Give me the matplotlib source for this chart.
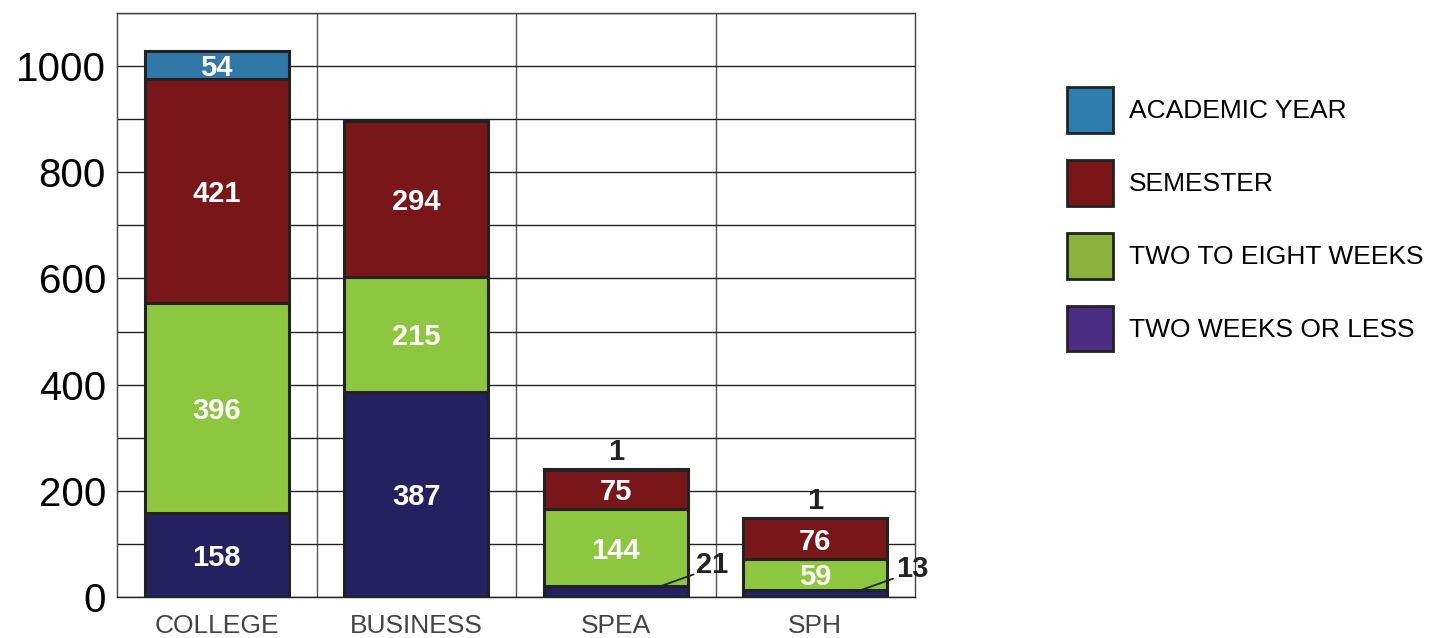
import numpy as np
import matplotlib
matplotlib.use('Agg')
import matplotlib.pyplot as plt
from matplotlib.patches import Patch

categories = ['COLLEGE', 'BUSINESS', 'SPEA', 'SPH']
two_weeks = [158, 387, 21, 13]
two_to_eight = [396, 215, 144, 59]
semester = [421, 294, 75, 76]
academic = [54, 0, 1, 1]
series_names = ['ACADEMIC YEAR', 'SEMESTER', 'TWO TO EIGHT WEEKS', 'TWO WEEKS OR LESS']

bar_colors = ['#252060', '#8DC63F', '#78161A', '#2F78A8']
legend_colors = ['#2E7DAF', '#7A1518', '#8CB23E', '#4B2E83']
edge = '#222222'

fig = plt.figure(figsize=(14.33, 6.38), dpi=100)
ax = fig.add_axes([117/1433, 41/638, (915-117)/1433, (597-13)/638])

x = np.arange(len(categories))
stacks = [two_weeks, two_to_eight, semester, academic]
bottom = np.zeros(len(categories))
for k, vals in enumerate(stacks):
    vals = np.array(vals, dtype=float)
    ax.bar(x, vals, 0.72, bottom=bottom, color=bar_colors[k], edgecolor=edge,
           linewidth=2.2, zorder=3)
    for i, v in enumerate(vals):
        if v == 0:
            continue
        if v >= 40:
            ax.text(x[i], bottom[i] + v / 2, '%d' % v, ha='center', va='center_baseline',
                    color='white', fontsize=21, fontweight='bold',
                    family='Liberation Sans', zorder=4)
        elif k == len(stacks) - 1:
            ax.annotate('%d' % v, (x[i], bottom[i] + v), xytext=(0, 2),
                        textcoords='offset points', ha='center', va='bottom',
                        color=edge, fontsize=21, fontweight='bold',
                        family='Liberation Sans')
        else:
            ax.annotate('%d' % v, (x[i] + 0.23, bottom[i] + v), xytext=(25, 15),
                        textcoords='offset points', ha='left', va='center',
                        color=edge, fontsize=21, fontweight='bold',
                        family='Liberation Sans',
                        arrowprops=dict(arrowstyle='-', color=edge, lw=1.3,
                                        shrinkA=0, shrinkB=0,
                                        relpos=(0, 0.2)), zorder=5)
    bottom += vals

ax.set_xlim(-0.5, 3.5)
ax.set_ylim(0, 1100)
ax.set_yticks(range(0, 1001, 200))
ax.set_yticks(range(0, 1101, 100), minor=True)
ax.yaxis.grid(True, which='both', color='#222222', lw=1.0, zorder=0)
for xv in [0.5, 1.5, 2.5]:
    ax.axvline(xv, color='#555555', lw=1.0, zorder=0)
ax.set_xticks(x)
ax.set_xticklabels(categories, family='Liberation Sans', fontsize=19, color='#444444')
ax.tick_params(axis='x', length=0, pad=12)
ax.tick_params(axis='y', which='both', length=0, pad=8, labelsize=29)
for lab in ax.get_yticklabels():
    lab.set_family('Liberation Sans')
for s in ax.spines.values():
    s.set_color('#444444')
    s.set_linewidth(1.0)
ax.spines['bottom'].set_color('#222222')

handles = [Patch(facecolor=c, edgecolor=edge, linewidth=2) for c in legend_colors]
fig.legend(handles, series_names, loc='upper left',
           bbox_to_anchor=(1067/1433, 1 - 87/638), frameon=False,
           borderpad=0, borderaxespad=0, handlelength=1.74, handleheight=2.3,
           handletextpad=0.62, labelspacing=1.02,
           prop={'family': 'Liberation Sans', 'size': 19})

fig.savefig('out.png', dpi=100)
